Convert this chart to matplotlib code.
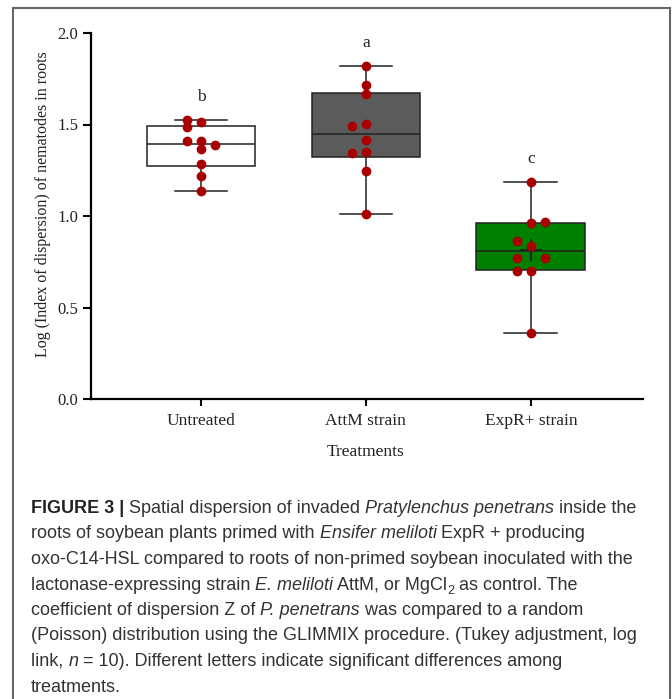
import numpy as np
import matplotlib.pyplot as plt
from matplotlib.lines import Line2D
from matplotlib.transforms import IdentityTransform

# data
groups = ['Untreated', 'AttM strain', 'ExpR+ strain']
letters = ['b', 'a', 'c']
box_colors = ['white', '#5b5b5b', '#008000']

untreated = [1.527, 1.513, 1.485, 1.410, 1.410, 1.390, 1.364, 1.286, 1.221, 1.139]
attm = [1.822, 1.714, 1.665, 1.490, 1.503, 1.415, 1.346, 1.352, 1.248, 1.013]
expr = [1.186, 0.962, 0.967, 0.866, 0.834, 0.773, 0.770, 0.698, 0.699, 0.363]
# side-by-side shift of the dots, in dot widths
untreated_off = [-1, 0, -1, -1, 0, 1, 0, 0, 0, 0]
attm_off = [0, 0, 0, -1, 0, 0, -1, 0, 0, 0]
expr_off = [0, 0, 1, -1, 0, -1, 1, -1, 0, 0]

q1 = [1.273, 1.325, 0.703]
medians = [1.396, 1.450, 0.807]
q3 = [1.490, 1.674, 0.960]

values = [untreated, attm, expr]
offsets = [untreated_off, attm_off, expr_off]

fig = plt.figure(figsize=(6.72, 6.99), dpi=100)
ax = fig.add_axes([91 / 672, 300 / 699, 552 / 672, 366 / 699])

stats = []
for i in range(3):
    v = np.array(values[i])
    stats.append({'q1': q1[i], 'med': medians[i], 'q3': q3[i],
                  'whislo': v.min(), 'whishi': v.max(), 'mean': v.mean(),
                  'fliers': []})

bp = ax.bxp(stats, positions=[0, 1, 2], widths=0.66, capwidths=0.32,
            patch_artist=True, showmeans=True, showfliers=False,
            boxprops=dict(edgecolor='#222222', linewidth=1.1),
            whiskerprops=dict(color='#222222', linewidth=1.1),
            capprops=dict(color='#222222', linewidth=1.1),
            medianprops=dict(color='#222222', linewidth=1.1),
            meanprops=dict(marker='+', markeredgecolor='#222222',
                           markersize=16, markeredgewidth=1.3))
for patch, c in zip(bp['boxes'], box_colors):
    patch.set_facecolor(c)
# the mean cross only shows in the last box
bp['means'][0].set_visible(False)
bp['means'][1].set_visible(False)

for i in range(3):
    x = i + np.array(offsets[i]) * 0.085
    ax.plot(x, values[i], 'o', color='#a80000', markersize=6, zorder=4)
    ax.text(i, max(values[i]) + 0.125, letters[i], ha='center', va='center',
            family='Liberation Serif', fontsize=12.5, color='#222222')

ax.set_xlim(-0.667, 2.68)
ax.set_ylim(0, 2.0)
ax.set_yticks([0, 0.5, 1.0, 1.5, 2.0])
ax.set_yticklabels(['0.0', '0.5', '1.0', '1.5', '2.0'])
ax.set_xticks([0, 1, 2])
ax.set_xticklabels(groups)
for s in ['top', 'right']:
    ax.spines[s].set_visible(False)
for s in ['left', 'bottom']:
    ax.spines[s].set_linewidth(1.6)
ax.tick_params(axis='y', length=6, width=1.5, pad=3, labelsize=12,
               labelcolor='#222222')
ax.tick_params(axis='x', length=5, width=1.5, pad=5, labelsize=12.5,
               labelcolor='#222222')
for lab in ax.get_xticklabels() + ax.get_yticklabels():
    lab.set_family('Liberation Serif')

ax.set_ylabel('Log (Index of dispersion) of nematodes in roots',
              family='Liberation Serif', fontsize=11.5, color='#222222')
ax.yaxis.set_label_coords(-0.087, 0.533)
ax.yaxis.label.set_va('center')
ax.set_xlabel('Treatments', family='Liberation Serif', fontsize=12.5,
              color='#222222')
ax.xaxis.set_label_coords(0.498, -0.145)
ax.xaxis.label.set_va('center')

# frame round the figure (top, left, right)
fr = dict(color='#666666', linewidth=1.5, transform=fig.transFigure)
fig.add_artist(Line2D([13 / 672, 670 / 672], [1 - 8 / 699, 1 - 8 / 699], **fr))
fig.add_artist(Line2D([13 / 672, 13 / 672], [0, 1 - 8 / 699], **fr))
fig.add_artist(Line2D([670 / 672, 670 / 672], [0, 1 - 8 / 699], **fr))

# caption, as runs of (text, style): b bold, i italic, s subscript
caption = [
    [('FIGURE 3 |', 'b'), (' Spatial dispersion of invaded ', ''),
     ('Pratylenchus penetrans', 'i'), (' inside the', '')],
    [('roots of soybean plants primed with ', ''), ('Ensifer meliloti', 'i'),
     (' ExpR + producing', '')],
    [('oxo-C14-HSL compared to roots of non-primed soybean inoculated with the', '')],
    [('lactonase-expressing strain ', ''), ('E. meliloti', 'i'),
     (' AttM, or MgCl', ''), ('2', 's'), (' as control. The', '')],
    [('coefficient of dispersion Z of ', ''), ('P. penetrans', 'i'),
     (' was compared to a random', '')],
    [('(Poisson) distribution using the GLIMMIX procedure. (Tukey adjustment, log', '')],
    [('link, ', ''), ('n', 'i'),
     (' = 10). Different letters indicate significant differences among', '')],
    [('treatments.', '')],
]

renderer = fig.canvas.get_renderer()
size = 13


def run_props(style):
    kw = dict(family='Liberation Sans', fontsize=size, color='#333333')
    if style == 'b':
        kw['weight'] = 'bold'
        kw['color'] = '#222222'
    if style == 'i':
        kw['style'] = 'italic'
    if style == 's':
        kw['fontsize'] = size * 0.7
    return kw


def advance(s, kw):
    a = fig.text(0, 0, '|' + s + '|', **kw)
    b = fig.text(0, 0, '||', **kw)
    w = a.get_window_extent(renderer).width - b.get_window_extent(renderer).width
    a.remove()
    b.remove()
    return w


for k, runs in enumerate(caption):
    x = 31
    y = 699 - (513 + 25.5 * k)
    for s, style in runs:
        kw = run_props(style)
        dy = -4 if style == 's' else 0
        fig.text(x, y + dy, s, ha='left', va='baseline',
                 transform=IdentityTransform(), **kw)
        x += advance(s, kw)

fig.savefig('out.png', dpi=100)
